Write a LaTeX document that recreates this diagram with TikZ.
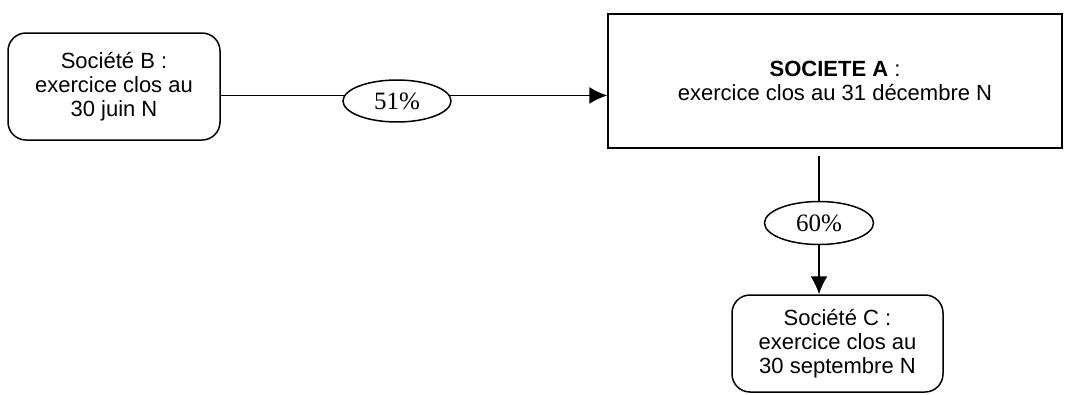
\documentclass[tikz,border=0pt]{standalone}
\usepackage{fontspec}
\setmainfont{Liberation Sans}
\newfontfamily\pctfont{Liberation Serif}
\usepackage{tikz}
\usetikzlibrary{arrows.meta,shapes.geometric}

\begin{document}
\begin{tikzpicture}[x=1pt, y=-1pt, line width=1.5pt,
    every node/.style={font=\fontsize{22}{24}\selectfont},
    socbox/.style={draw, align=center, inner sep=0pt},
    pct/.style={draw, ellipse, inner sep=0pt, font=\pctfont\fontsize{25}{28}\selectfont},
    link/.style={-{Latex[length=18pt,width=17pt]}}]
    \useasboundingbox (0,0) rectangle (1070,394);
    \node[socbox, rounded corners=18pt, minimum width=212pt, minimum height=107pt] (soc b) at (114,86.5)
      {Société B :\\exercice clos au\\30 juin N};
    \node[socbox, minimum width=454pt, minimum height=134pt] (soc a) at (835,81)
      {\textbf{SOCIETE A} :\\exercice clos au 31 décembre N};
    \node[socbox, rounded corners=18pt, minimum width=211pt, minimum height=97pt] (soc c) at (837.5,343.5)
      {Société C :\\exercice clos au\\30 septembre N};
    \node[pct, minimum width=108pt, minimum height=42pt] (p51) at (397,101) {51\%};
    \node[pct, minimum width=109pt, minimum height=43pt] (p60) at (819,223) {60\%};
    \draw (soc b.east |- p51.174) -- (p51.174);
    \draw[link] (p51.6) -- (soc a.west |- p51.6);
    \draw[shorten <=7pt] (p60 |- soc a.south) -- (p60.north);
    \draw[link] (p60.south) -- (p60 |- soc c.north);
\end{tikzpicture}
\end{document}
